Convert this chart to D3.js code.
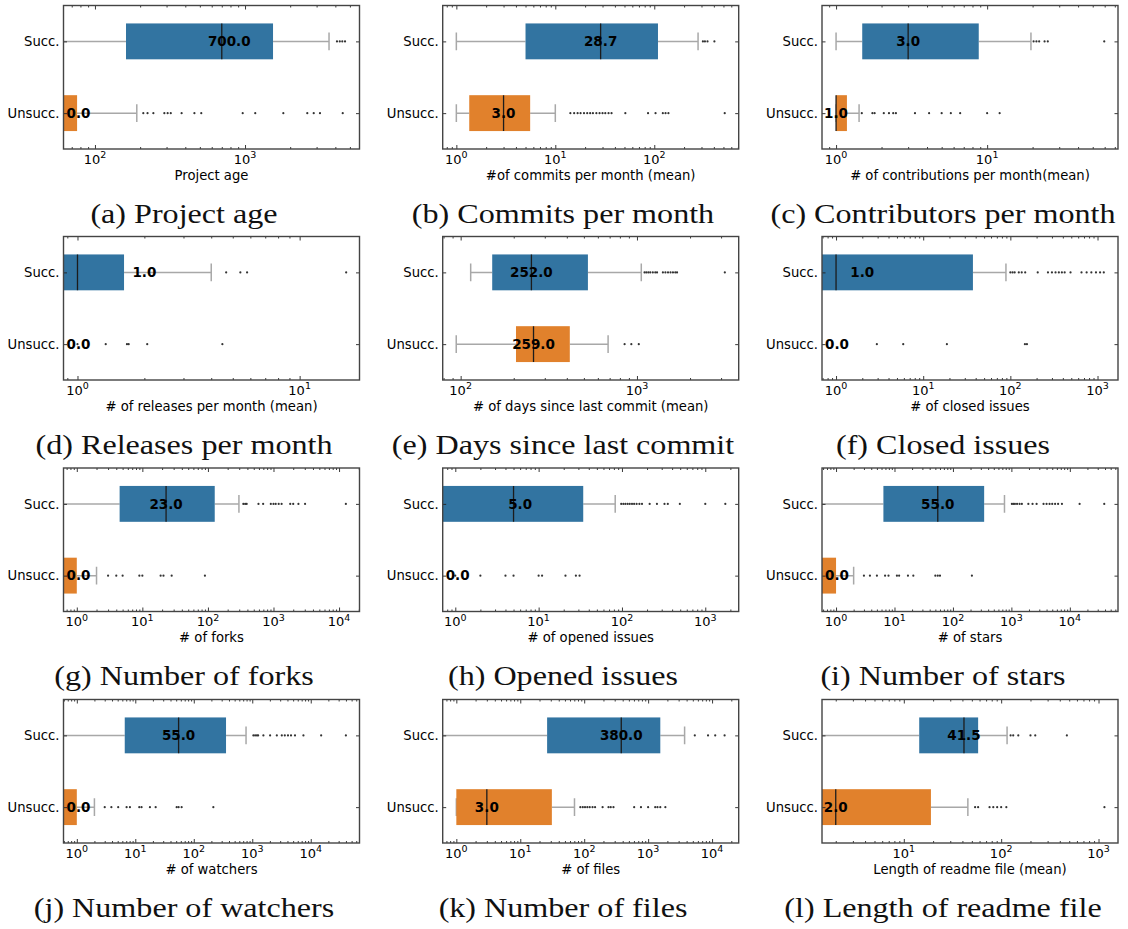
<!DOCTYPE html>
<html>
<head>
<meta charset="utf-8">
<script src="https://cdn.jsdelivr.net/npm/d3@7"></script>
<style>
  body { margin: 0; background: #ffffff; }
  svg { display: block; }
</style>
</head>
<body>
<svg id="fig" width="1128" height="929"></svg>
<script>
// ---- data -------------------------------------------------------------
const groups = ["Succ.", "Unsucc."];

const captions = [
  "(a) Project age", "(b) Commits per month", "(c) Contributors per month",
  "(d) Releases per month", "(e) Days since last commit", "(f) Closed issues",
  "(g) Number of forks", "(h) Opened issues", "(i) Number of stars",
  "(j) Number of watchers", "(k) Number of files", "(l) Length of readme file"
];

const axisTitles = [
  "Project age", "#of commits per month (mean)", "# of contributions per month(mean)",
  "# of releases per month (mean)", "# of days since last commit (mean)", "# of closed issues",
  "# of forks", "# of opened issues", "# of stars",
  "# of watchers", "# of files", "Length of readme file (mean)"
];

// visible x range of each log axis
const xLimits = [
  [61.7, 5794], [0.728, 713], [0.807, 73.5],
  [0.865, 18.6], [79.1, 3776], [0.69, 1718],
  [0.627, 20500], [0.706, 2518], [0.575, 66700],
  [0.592, 68200], [0.612, 26100], [1.445, 1585]
];

// labelled decades (10^k) on each axis
const majorExponents = [
  [2, 3], [0, 1, 2], [0, 1],
  [0, 1], [2, 3], [0, 1, 2, 3],
  [0, 1, 2, 3, 4], [0, 1, 2, 3], [0, 1, 2, 3, 4],
  [0, 1, 2, 3, 4], [0, 1, 2, 3, 4], [1, 2, 3]
];

// [lower whisker, Q1, median, Q3, upper whisker]
const succStats = [
  [0, 161, 700, 1537, 3630],
  [1, 5.0, 28.7, 109, 277],
  [1, 1.49, 3.0, 8.8, 19.5],
  [0, 0, 1.0, 1.62, 4.0],
  [114, 151, 252, 527, 1058],
  [0, 0, 1.0, 37.2, 89],
  [0, 4.5, 23, 127, 297],
  [0, 0, 5.0, 34.3, 83],
  [0, 6.46, 55, 342, 762],
  [0, 6.6, 55, 356, 783],
  [0, 26.3, 380, 1550, 3720],
  [1, 14.4, 41.5, 58, 115]
];

const unsuccStats = [
  [0, 0, 0, 76, 190],
  [1, 1.35, 3.0, 5.57, 10],
  [1, 1, 1.0, 1.18, 1.42],
  [0, 0, 0, 0, 0],
  [94.4, 206, 259, 416, 686],
  [0, 0, 0, 0, 0],
  [0, 0, 0, 1, 2],
  [0, 0, 0, 0, 0],
  [0, 0, 0, 1, 2],
  [0, 0, 0, 1, 2],
  [1, 1, 3.0, 31.2, 70.5],
  [1, 1, 2.0, 19, 45.5]
];

const succOutliers = [
  [4100, 4280, 4450, 4640],
  [310, 325, 345, 405],
  [20.3, 21.2, 22.1, 24, 25.2, 59.6],
  [4.67, 5.41, 5.8, 16.2],
  [1104, 1130, 1160, 1190, 1230, 1270, 1300, 1403, 1450, 1500, 1550, 1600, 1650, 1688, 3150],
  [100, 106, 112, 125, 135, 148, 206, 270, 300, 330, 360, 390, 420, 490, 655, 750, 850, 960, 1070, 1180],
  [347, 370, 390, 590, 695, 910, 1000, 1080, 1200, 1330, 1800, 2000, 2400, 3030, 12700],
  [98, 104, 110, 117, 124, 132, 140, 150, 162, 174, 215, 263, 324, 355, 495, 1000, 1740],
  [1020, 1080, 1150, 1250, 1380, 1510, 1950, 2300, 2700, 3550, 4000, 4500, 5000, 5600, 6300, 7330, 14700, 38800],
  [1045, 1120, 1200, 1260, 1550, 2020, 2630, 3200, 3600, 4080, 4600, 5380, 7500, 15070, 39900],
  [5370, 8650, 11200, 15700],
  [125, 133, 150, 200, 224, 473]
];

const unsuccOutliers = [
  [210, 224, 245, 290, 305, 320, 378, 460, 511, 965, 1170, 1800, 2600, 2870, 3160, 4480],
  [14.2, 15.5, 16.8, 18, 19.5, 21, 22.5, 24, 26, 28, 30, 32, 34.5, 37, 51, 86.5, 103, 122, 130, 139, 515],
  [1.48, 1.74, 1.8, 2.07, 2.24, 2.39, 2.49, 3.33, 4.13, 5.0, 5.75, 6.63, 10, 12.1],
  [1.0, 1.34, 1.67, 1.70, 2.06, 4.49],
  [851, 929, 1024],
  [2.94, 5.9, 18.7, 147, 155],
  [3, 4, 5, 9, 10, 19, 21, 28, 90],
  [1, 2, 4, 5, 10, 11, 21, 28, 31],
  [3, 3.8, 5, 6.9, 7.9, 11, 12, 17, 21, 50, 55, 60, 211],
  [3, 3.9, 5.1, 7.1, 8.1, 11.7, 12.8, 17.8, 22.3, 51, 55, 62, 216],
  [87, 95, 103, 112, 122, 135, 148, 194, 240, 260, 287, 605, 773, 1000, 1290, 1400, 1550, 1860],
  [54, 58, 76, 83, 91, 100, 113, 1150]
];

// x at which each median annotation is centred (0 = pinned to the left edge)
const succLabelAt   = [785, 28.7, 3, 2, 252, 2, 23, 6, 55, 55, 380, 41.5];
const unsuccLabelAt = [0, 3, 1, 0, 259, 0, 0, 0, 0, 0, 3, 2];

// ---- layout & style ----------------------------------------------------
const colLeft = [63.5, 442.7, 822];
const rowTop = [5.5, 236.5, 468, 699.5];
const captionX = [184, 563, 943];
const axW = 296, axH = 143.5;
const boxColors = ["#3274a1", "#e1812c"];
const whiskerColor = "#a8a8a8";
const spineColor = "#444444";
const sans = "'DejaVu Sans', sans-serif";

const svg = d3.select("#fig");

d3.range(12).forEach(i => {
  const row = Math.floor(i / 3), col = i % 3;
  const g = svg.append("g")
    .attr("transform", `translate(${colLeft[col]},${rowTop[row]})`);

  const x = d3.scaleLog().domain(xLimits[i]).range([0, axW]);
  const y = d3.scalePoint().domain(groups).range([0, axH]).padding(0.5);
  const boxH = axH / 4;
  const px = v => (v > 0 ? x(v) : -40);

  const clipId = `clip-${i}`;
  g.append("clipPath").attr("id", clipId)
    .append("rect").attr("width", axW).attr("height", axH);
  const plot = g.append("g").attr("clip-path", `url(#${clipId})`);

  const stats = [succStats[i], unsuccStats[i]];
  const fliers = [succOutliers[i], unsuccOutliers[i]];

  groups.forEach((grp, k) => {
    const [lo, q1, med, q3, hi] = stats[k];
    const cy = y(grp);
    const gg = plot.append("g");

    // whiskers
    [[lo, q1], [q3, hi]].forEach(([a, b]) => {
      if (b > a) {
        gg.append("line")
          .attr("x1", px(a)).attr("x2", px(b))
          .attr("y1", cy).attr("y2", cy)
          .attr("stroke", whiskerColor).attr("stroke-width", 1.5);
      }
    });
    // caps
    [lo, hi].forEach(v => {
      if (v > 0) {
        gg.append("line")
          .attr("x1", x(v)).attr("x2", x(v))
          .attr("y1", cy - boxH / 4).attr("y2", cy + boxH / 4)
          .attr("stroke", whiskerColor).attr("stroke-width", 1.5);
      }
    });
    // box
    if (q3 > q1) {
      gg.append("rect")
        .attr("x", px(q1)).attr("width", px(q3) - px(q1))
        .attr("y", cy - boxH / 2).attr("height", boxH)
        .attr("fill", boxColors[k]);
    }
    // median
    if (med > 0) {
      gg.append("line")
        .attr("x1", x(med)).attr("x2", x(med))
        .attr("y1", cy - boxH / 2).attr("y2", cy + boxH / 2)
        .attr("stroke", "#1c1c1c").attr("stroke-width", 1.3);
    }
    // outliers
    gg.selectAll("circle.flier").data(fliers[k]).join("circle")
      .attr("class", "flier")
      .attr("cx", d => x(d)).attr("cy", cy).attr("r", 1.1)
      .attr("fill", "#333333");
  });

  // spines & ticks (all pointing inwards)
  const lo10 = Math.floor(Math.log10(xLimits[i][0]));
  const hi10 = Math.ceil(Math.log10(xLimits[i][1]));
  const minors = [];
  for (let e = lo10; e <= hi10; e++) {
    for (let m = 2; m <= 9; m++) {
      const v = m * Math.pow(10, e);
      if (v >= xLimits[i][0] && v <= xLimits[i][1]) minors.push(v);
    }
  }
  const majors = majorExponents[i].map(e => Math.pow(10, e));

  const tickStyle = sel => {
    sel.select(".domain").remove();
    sel.selectAll("line").attr("stroke", "#222").attr("stroke-width", 0.9);
  };

  g.append("g").attr("transform", `translate(0,${axH})`)
    .call(d3.axisBottom(x).tickValues(majors).tickSizeInner(-4).tickSizeOuter(0).tickFormat(""))
    .call(tickStyle);
  g.append("g").attr("transform", `translate(0,${axH})`)
    .call(d3.axisBottom(x).tickValues(minors).tickSizeInner(-2).tickSizeOuter(0).tickFormat(""))
    .call(tickStyle);
  g.append("g")
    .call(d3.axisTop(x).tickValues(majors).tickSizeInner(-4).tickSizeOuter(0).tickFormat(""))
    .call(tickStyle);
  g.append("g")
    .call(d3.axisTop(x).tickValues(minors).tickSizeInner(-2).tickSizeOuter(0).tickFormat(""))
    .call(tickStyle);
  g.append("g").attr("transform", `translate(${axW},0)`)
    .call(d3.axisRight(y).tickSizeInner(-3.5).tickSizeOuter(0).tickFormat(""))
    .call(tickStyle);
  const yAx = g.append("g")
    .call(d3.axisLeft(y).tickSizeInner(-3.5).tickSizeOuter(0).tickPadding(4))
    .call(tickStyle);
  yAx.selectAll("text")
    .attr("font-family", sans).attr("font-size", 13.2).attr("fill", "#000");

  g.append("rect")
    .attr("width", axW).attr("height", axH)
    .attr("fill", "none").attr("stroke", spineColor).attr("stroke-width", 1.4);

  // median annotations
  const medians = [stats[0][2], stats[1][2]];
  const anchors = [succLabelAt[i], unsuccLabelAt[i]];
  groups.forEach((grp, k) => {
    const a = anchors[k];
    g.append("text")
      .attr("x", a > 0 ? x(a) : 3)
      .attr("y", y(grp))
      .attr("dy", "0.36em")
      .attr("text-anchor", a > 0 ? "middle" : "start")
      .attr("font-family", sans).attr("font-weight", "bold").attr("font-size", 13.5)
      .attr("fill", "#000")
      .text(medians[k].toFixed(1));
  });

  // decade labels 10^k
  majorExponents[i].forEach(e => {
    const t = g.append("text")
      .attr("x", x(Math.pow(10, e)))
      .attr("y", axH + 14.5)
      .attr("text-anchor", "middle")
      .attr("font-family", sans).attr("font-size", 13).attr("fill", "#000");
    t.append("tspan").text("10");
    t.append("tspan").attr("dy", -5.5).attr("font-size", 9.5).text(e);
  });

  // axis title
  g.append("text")
    .attr("x", axW / 2).attr("y", axH + 30.5)
    .attr("text-anchor", "middle")
    .attr("font-family", sans).attr("font-size", 13.2).attr("fill", "#000")
    .text(axisTitles[i]);

  // sub-figure caption
  svg.append("g")
    .attr("transform", `translate(${captionX[col]},${rowTop[row] + 217}) scale(1.19,1)`)
    .append("text")
    .attr("text-anchor", "middle")
    .attr("font-family", "'Liberation Serif', 'Times New Roman', serif")
    .attr("font-size", 27).attr("fill", "#111")
    .text(captions[i]);
});
</script>
</body>
</html>
